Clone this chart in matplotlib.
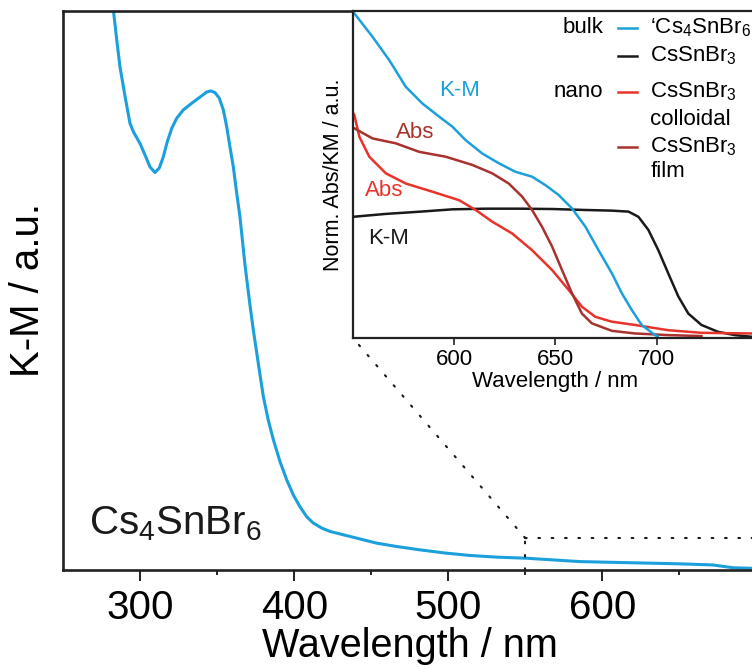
import numpy as np
import matplotlib.pyplot as plt
from matplotlib.patches import ConnectionPatch

plt.rcParams['font.family'] = ['Liberation Sans', 'DejaVu Sans']
plt.rcParams['mathtext.fontset'] = 'custom'
plt.rcParams['mathtext.rm'] = 'Liberation Sans'

BLUE = '#1ba0dc'
BLACK = '#1a1a1a'
RED = '#e8332b'
DARKRED = '#a8322d'

# bulk Cs4SnBr6, Kubelka-Munk (main panel)
wl_main = [281, 282.5, 284.7, 286.8, 290.1, 293.3, 295.5, 299.8, 303.1, 306.3, 309.5,
           312.3, 314.9, 317.5, 320.4, 323.6, 327.9, 333.4, 338.8, 343.1, 345.7, 348.5,
           351.3, 353.9, 356.1, 358.2, 360.4, 362.6, 364.7, 368.0, 371.2, 373.4, 376.6,
           379.9, 383.1, 386.4, 390.7, 395.1, 399.4, 403.7, 408.1, 412.3, 417.8, 423.2,
           431.8, 440.5, 453.5, 466.5, 481.6, 499, 514.1, 531.4, 550.9, 585.5, 618,
           650.4, 671.9, 684.9, 697.2, 705]
km_main = [1.05, 1.002, 0.948, 0.900, 0.847, 0.799, 0.784, 0.763, 0.742, 0.721, 0.711,
           0.719, 0.739, 0.766, 0.790, 0.808, 0.823, 0.835, 0.846, 0.855, 0.857, 0.854,
           0.844, 0.823, 0.793, 0.757, 0.721, 0.674, 0.632, 0.545, 0.474, 0.429, 0.370,
           0.310, 0.268, 0.233, 0.194, 0.161, 0.134, 0.113, 0.095, 0.084, 0.075, 0.069,
           0.063, 0.057, 0.048, 0.042, 0.036, 0.030, 0.026, 0.023, 0.021, 0.015, 0.013,
           0.011, 0.009, 0.004, 0.003, 0.002]

# inset: normalised spectra 550-750 nm
wl_bulk4 = [550, 550.8, 559.8, 568, 576.2, 584.4, 592.6, 599.2, 605.7, 613.9, 622.1,
            630.3, 638.5, 645.1, 651.6, 658.2, 664.8, 671.3, 677.9, 682.8, 687.7,
            692.6, 699.2, 700.5]
km_bulk4 = [1.0, 0.993, 0.921, 0.850, 0.768, 0.717, 0.677, 0.646, 0.605, 0.564, 0.534,
            0.508, 0.493, 0.467, 0.437, 0.396, 0.340, 0.268, 0.197, 0.136, 0.085,
            0.039, 0.008, 0.004]

wl_bulk3 = [550, 566.4, 583.6, 599.2, 615.6, 632, 648.4, 664.8, 677.9, 686.1, 691,
            695.9, 700.8, 705.7, 710.7, 715.6, 722.1, 730.3, 738.5, 746.7, 755]
km_bulk3 = [0.370, 0.379, 0.386, 0.393, 0.395, 0.395, 0.394, 0.391, 0.389, 0.386, 0.370,
            0.330, 0.268, 0.197, 0.126, 0.074, 0.039, 0.018, 0.008, 0.003, 0.002]

wl_coll = [550, 550.8, 553.3, 558.2, 566.4, 576.2, 589.3, 602.5, 610.7, 618.9, 628.7,
           638.5, 648.4, 656.6, 663.1, 669.7, 677.9, 689.3, 705.7, 722.1, 746.7, 755]
abs_coll = [0.69, 0.682, 0.615, 0.554, 0.503, 0.472, 0.447, 0.421, 0.391, 0.355, 0.319,
            0.268, 0.207, 0.146, 0.095, 0.064, 0.049, 0.039, 0.023, 0.015, 0.013, 0.013]

wl_film = [550, 550.8, 559.8, 571.3, 582.8, 595.9, 609, 618.9, 627, 633.6, 638.5,
           643.4, 648.4, 653.3, 658.2, 663.1, 668, 677.9, 689.3, 705.7, 722.1]
abs_film = [0.642, 0.641, 0.610, 0.595, 0.569, 0.554, 0.529, 0.503, 0.472, 0.432, 0.391,
            0.340, 0.279, 0.207, 0.136, 0.074, 0.044, 0.021, 0.013, 0.008, 0.005]

zoom_top = 0.057

fig = plt.figure(figsize=(7.52, 6.69), dpi=100)

ax = fig.add_axes([0.0842, 0.148, 0.9215, 0.8356])
ax.plot(wl_main, km_main, color=BLUE, lw=2.2)
ax.set_xlim(250, 700)
ax.set_ylim(0, 1)
ax.set_yticks([])
ax.set_xticks([300, 400, 500, 600])
ax.set_xticks([350, 450, 550, 650], minor=True)
ax.tick_params(axis='x', which='major', length=8, width=1.4, labelsize=29, pad=6,
               color='#222222')
ax.tick_params(axis='x', which='minor', length=3.6, width=1.4, color='#222222')
for s in ax.spines.values():
    s.set_linewidth(1.9)
    s.set_color('#222222')
ax.set_xlabel('Wavelength / nm', fontsize=28.5, labelpad=0)
ax.set_ylabel('K-M / a.u.', fontsize=29, labelpad=12)
ax.text(266.5, 0.063, r'Cs$\mathregular{_4}$SnBr$\mathregular{_6}$', fontsize=29,
        va='baseline', ha='left', color=BLACK)

# zoom box marker
dot = dict(color=BLACK, lw=1.5, linestyle=(0, (0.8, 5.6)))
ax.plot([550, 700], [zoom_top, zoom_top], clip_on=False, dash_capstyle='round', **dot)
ax.plot([550, 550], [0, zoom_top], dash_capstyle='round', **dot)

axin = fig.add_axes([0.469, 0.4952, 0.539, 0.4883])
axin.plot(wl_bulk3, km_bulk3, color=BLACK, lw=1.8)
axin.plot(wl_coll, abs_coll, color=RED, lw=1.8)
axin.plot(wl_film, abs_film, color=DARKRED, lw=1.8)
axin.plot(wl_bulk4, km_bulk4, color=BLUE, lw=1.8)
axin.set_xlim(550, 750)
axin.set_ylim(0, 1)
axin.set_yticks([])
axin.set_xticks([600, 650, 700])
axin.tick_params(axis='x', length=5, width=1.2, labelsize=16, pad=3, color='#222222')
for s in axin.spines.values():
    s.set_linewidth(1.6)
    s.set_color('#222222')
axin.set_xlabel('Wavelength / nm', fontsize=16, labelpad=1)
axin.set_ylabel('Norm. Abs/KM / a.u.', fontsize=15.5, labelpad=6)

axin.text(602.9, 0.758, 'K-M', color=BLUE, fontsize=16, ha='center', va='center')
axin.text(581, 0.627, 'Abs', color=DARKRED, fontsize=16, ha='center', va='center')
axin.text(565.4, 0.452, 'Abs', color=RED, fontsize=16, ha='center', va='center')
axin.text(567.9, 0.305, 'K-M', color=BLACK, fontsize=16, ha='center', va='center')

con = ConnectionPatch(xyA=(550, zoom_top), coordsA='data', axesA=ax,
                      xyB=(0, 0), coordsB='axes fraction', axesB=axin,
                      capstyle='round', **dot)
fig.add_artist(con)

# legend
tr = axin.transAxes
lg = 16
axin.text(0.618, 0.949, 'bulk', transform=tr, fontsize=lg, ha='right', va='center')
axin.text(0.618, 0.753, 'nano', transform=tr, fontsize=lg, ha='right', va='center')
rows = [(0.949, BLUE, '\u2018Cs$\\mathregular{_4}$SnBr$\\mathregular{_6}$\u2019'),
        (0.862, BLACK, 'CsSnBr$\\mathregular{_3}$'),
        (0.753, RED, 'CsSnBr$\\mathregular{_3}$'),
        (0.584, DARKRED, 'CsSnBr$\\mathregular{_3}$')]
for y, c, label in rows:
    axin.plot([0.655, 0.701], [y, y], color=c, lw=1.8, transform=tr, clip_on=False)
    axin.text(0.734, y, label, transform=tr, fontsize=lg, ha='left', va='center')
axin.text(0.734, 0.667, 'colloidal', transform=tr, fontsize=lg, ha='left', va='center')
axin.text(0.734, 0.508, 'film', transform=tr, fontsize=lg, ha='left', va='center')

fig.savefig('out.png', dpi=100)
